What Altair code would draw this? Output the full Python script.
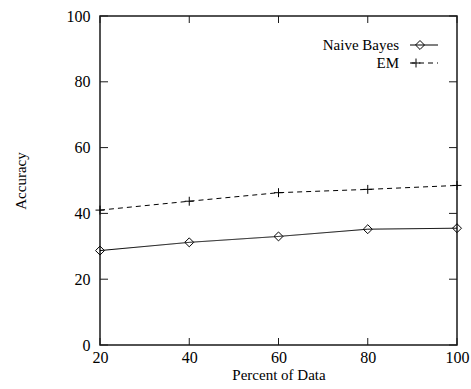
import altair as alt
import pandas as pd

percent = [20, 40, 60, 80, 100]
naive_bayes = [28.7, 31.2, 33.0, 35.2, 35.5]
em = [41.0, 43.7, 46.3, 47.3, 48.5]
series_names = ["Naive Bayes", "EM"]
x_ticks = [20, 40, 60, 80, 100]
y_ticks = [0, 20, 40, 60, 80, 100]

W, H = 357, 329
FONT = "Liberation Serif"
TL = 7  # inward tick length
EDGE = "#1a1a1a"

df = pd.DataFrame({
    "Percent": percent * 2,
    "Accuracy": naive_bayes + em,
    "Series": [series_names[0]] * len(percent) + [series_names[1]] * len(percent),
})

xs = alt.Scale(domain=[20, 100], nice=False, zero=False)
ys = alt.Scale(domain=[0, 100], nice=False)

x_axis = alt.Axis(values=x_ticks, title="Percent of Data", labelPadding=4, titlePadding=2,
                  grid=False, tickSize=0, domain=False,
                  labelFlush=False, labelFont=FONT, titleFont=FONT, labelFontSize=16,
                  titleFontSize=15, titleFontWeight="normal", labelColor="black",
                  titleColor="black")
y_axis = alt.Axis(values=y_ticks, title="Accuracy", labelPadding=10, titlePadding=38,
                  grid=False, tickSize=0, domain=False,
                  labelFlush=False, labelFont=FONT, titleFont=FONT, labelFontSize=16,
                  titleFontSize=15, titleFontWeight="normal", labelColor="black",
                  titleColor="black")

base = alt.Chart(df)

lines = base.mark_line(color="black", strokeWidth=1).encode(
    x=alt.X("Percent:Q", scale=xs, axis=x_axis),
    y=alt.Y("Accuracy:Q", scale=ys, axis=y_axis),
    strokeDash=alt.StrokeDash("Series:N", scale=alt.Scale(domain=series_names,
                                                          range=[[1, 0], [5, 4]]), legend=None),
)

pts = base.mark_point(filled=False, color="black", strokeWidth=1, opacity=1, size=80).encode(
    x="Percent:Q", y="Accuracy:Q",
    shape=alt.Shape("Series:N", scale=alt.Scale(domain=series_names,
                                                range=["diamond", "M-1,0L1,0M0,-1L0,1"]),
                    legend=None),
)

# inward ticks on all four sides, drawn as rules on the same scales
xt = pd.DataFrame({"Percent": x_ticks})
yt = pd.DataFrame({"Accuracy": y_ticks})
tick_bottom = alt.Chart(xt).mark_rule(color=EDGE, strokeWidth=1).encode(
    x="Percent:Q", y=alt.value(H), y2=alt.value(H - TL))
tick_top = alt.Chart(xt).mark_rule(color=EDGE, strokeWidth=1).encode(
    x="Percent:Q", y=alt.value(0), y2=alt.value(TL))
tick_left = alt.Chart(yt).mark_rule(color=EDGE, strokeWidth=1).encode(
    y="Accuracy:Q", x=alt.value(0), x2=alt.value(TL + 1))
tick_right = alt.Chart(yt).mark_rule(color=EDGE, strokeWidth=1).encode(
    y="Accuracy:Q", x=alt.value(W - TL - 1), x2=alt.value(W))

# legend (top-right, gnuplot style)
leg = pd.DataFrame({"name": series_names})
ROW_Y = [29, 47]
leg_layers = []
for i, nm in enumerate(series_names):
    src = alt.Chart(leg).transform_filter(alt.datum.name == nm)
    leg_layers.append(src.mark_text(align="right", baseline="middle", font=FONT,
                                    fontSize=15, color="black").encode(
        text="name:N", x=alt.value(299), y=alt.value(ROW_Y[i])))
    leg_layers.append(src.mark_rule(color="black", strokeWidth=1,
                                    **({"strokeDash": [5, 4]} if i == 1 else {})).encode(
        x=alt.value(310), x2=alt.value(338), y=alt.value(ROW_Y[i])))
    leg_layers.append(src.mark_point(shape="diamond" if i == 0 else "M-1,0L1,0M0,-1L0,1",
                                     size=80, filled=False, color="black",
                                     strokeWidth=1, opacity=1).encode(
        x=alt.value(320 if i == 0 else 316), y=alt.value(ROW_Y[i])))

chart = alt.layer(
    lines, pts, tick_bottom, tick_top, tick_left, tick_right, *leg_layers,
).properties(
    width=W, height=H,
    autosize=alt.AutoSizeParams(type="none"),
    padding={"left": 100, "top": 16, "right": 14, "bottom": 44},
).configure_view(stroke=EDGE, strokeWidth=1.5)

chart.save("out.html", embed_options={"renderer": "svg", "actions": False})
